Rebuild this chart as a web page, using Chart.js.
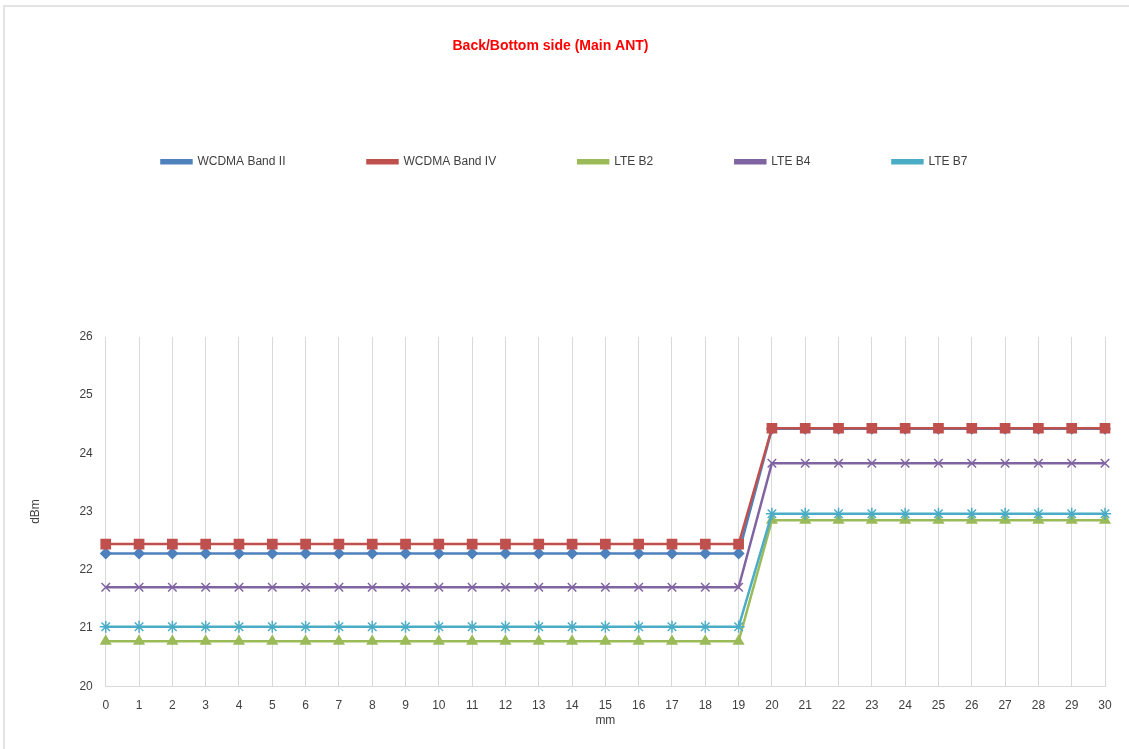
<!DOCTYPE html>
<html>
<head>
<meta charset="utf-8">
<title>Back/Bottom side (Main ANT)</title>
<script src="https://cdn.jsdelivr.net/npm/chart.js@4.4.1/dist/chart.umd.min.js"></script>
<style>
  body { margin: 0; background: #fff; overflow: hidden; }
  #wrap { position: relative; width: 1129px; height: 749px; }
  #frame { position: absolute; left: 3px; top: 5px; right: 0; bottom: 0;
           border-left: 2px solid #e3e3e3; border-top: 2px solid #e3e3e3; }
  #myChart { position: absolute; left: 0; top: 0; }
</style>
</head>
<body>
<div id="wrap">
  <div id="frame"></div>
  <canvas id="myChart" width="1129" height="749"></canvas>
</div>
<script>
// distance, mm
const distances = [0, 1, 2, 3, 4, 5, 6, 7, 8, 9, 10, 11, 12, 13, 14, 15, 16, 17, 18, 19, 20, 21, 22, 23, 24, 25, 26, 27, 28, 29, 30];

// power, dBm
const wcdmaBand2 = [22.28, 22.28, 22.28, 22.28, 22.28, 22.28, 22.28, 22.28, 22.28, 22.28, 22.28, 22.28, 22.28, 22.28, 22.28, 22.28, 22.28, 22.28, 22.28, 22.28, 24.42, 24.42, 24.42, 24.42, 24.42, 24.42, 24.42, 24.42, 24.42, 24.42, 24.42];
const wcdmaBand4 = [22.44, 22.44, 22.44, 22.44, 22.44, 22.44, 22.44, 22.44, 22.44, 22.44, 22.44, 22.44, 22.44, 22.44, 22.44, 22.44, 22.44, 22.44, 22.44, 22.44, 24.43, 24.43, 24.43, 24.43, 24.43, 24.43, 24.43, 24.43, 24.43, 24.43, 24.43];
const lteB2 = [20.77, 20.77, 20.77, 20.77, 20.77, 20.77, 20.77, 20.77, 20.77, 20.77, 20.77, 20.77, 20.77, 20.77, 20.77, 20.77, 20.77, 20.77, 20.77, 20.77, 22.85, 22.85, 22.85, 22.85, 22.85, 22.85, 22.85, 22.85, 22.85, 22.85, 22.85];
const lteB4 = [21.70, 21.70, 21.70, 21.70, 21.70, 21.70, 21.70, 21.70, 21.70, 21.70, 21.70, 21.70, 21.70, 21.70, 21.70, 21.70, 21.70, 21.70, 21.70, 21.70, 23.83, 23.83, 23.83, 23.83, 23.83, 23.83, 23.83, 23.83, 23.83, 23.83, 23.83];
const lteB7 = [21.02, 21.02, 21.02, 21.02, 21.02, 21.02, 21.02, 21.02, 21.02, 21.02, 21.02, 21.02, 21.02, 21.02, 21.02, 21.02, 21.02, 21.02, 21.02, 21.02, 22.96, 22.96, 22.96, 22.96, 22.96, 22.96, 22.96, 22.96, 22.96, 22.96, 22.96];

const seriesNames = ['WCDMA Band II', 'WCDMA Band IV', 'LTE B2', 'LTE B4', 'LTE B7'];
const seriesValues = [wcdmaBand2, wcdmaBand4, lteB2, lteB4, lteB7];
const seriesColors = ['#4F81BD', '#C0504D', '#9BBB59', '#8064A2', '#4BACC6'];
const seriesMarkers = ['rectRot', 'rect', 'triangle', 'crossRot', 'star'];
const seriesMarkerSize = [5, 6.5, 5.5, 6, 6];

Chart.defaults.font.family = "'Liberation Sans', Arial, sans-serif";
Chart.defaults.font.size = 12;
Chart.defaults.color = '#404040';

// extra room under the legend, like the excel chart
const legendGap = {
  id: 'legendGap',
  beforeInit(chart) {
    const fit = chart.legend.fit;
    chart.legend.fit = function () {
      fit.bind(chart.legend)();
      this.height += 159;
    };
  },
  afterLayout(chart) {
    // excel title sits a bit left of the legend centre
    chart.titleBlock.left -= 14;
    chart.titleBlock.right -= 14;
  }
};

const ctx = document.getElementById('myChart');
const chart = new Chart(ctx, {
  type: 'line',
  data: {
    labels: distances,
    datasets: seriesNames.map((name, i) => ({
      label: name,
      data: seriesValues[i],
      borderColor: seriesColors[i],
      backgroundColor: seriesColors[i],
      borderWidth: 2.5,
      pointStyle: seriesMarkers[i],
      pointRadius: seriesMarkerSize[i],
      pointBorderWidth: 1.5,
      pointBorderColor: seriesColors[i],
      pointBackgroundColor: seriesColors[i],
      tension: 0,
      order: seriesNames.length - i
    }))
  },
  options: {
    responsive: false,
    animation: false,
    layout: {
      padding: { left: 24, right: 24, top: 0, bottom: 4 }
    },
    plugins: {
      title: {
        display: true,
        text: 'Back/Bottom side (Main ANT)',
        color: '#FF0000',
        font: { size: 14, weight: 'bold' },
        padding: { top: 38, bottom: 19 }
      },
      legend: {
        position: 'top',
        labels: {
          boxWidth: 30,
          boxHeight: 3,
          padding: 82,
          color: '#404040',
          sort: (a, b) => a.datasetIndex - b.datasetIndex
        }
      },
      tooltip: { enabled: false }
    },
    scales: {
      x: {
        offset: false,
        grid: { display: true, color: '#d9d9d9', drawTicks: false },
        border: { display: true, color: '#d9d9d9' },
        ticks: { padding: 12, maxRotation: 0, autoSkip: false },
        title: { display: true, text: 'mm', padding: { top: -11, bottom: 17 } }
      },
      y: {
        min: 20,
        max: 26,
        grid: { display: false, drawTicks: false },
        border: { display: false },
        ticks: { stepSize: 1, padding: 13 },
        title: { display: true, text: 'dBm', padding: { top: 4, bottom: 24 } }
      }
    }
  },
  plugins: [legendGap]
});
</script>
</body>
</html>
